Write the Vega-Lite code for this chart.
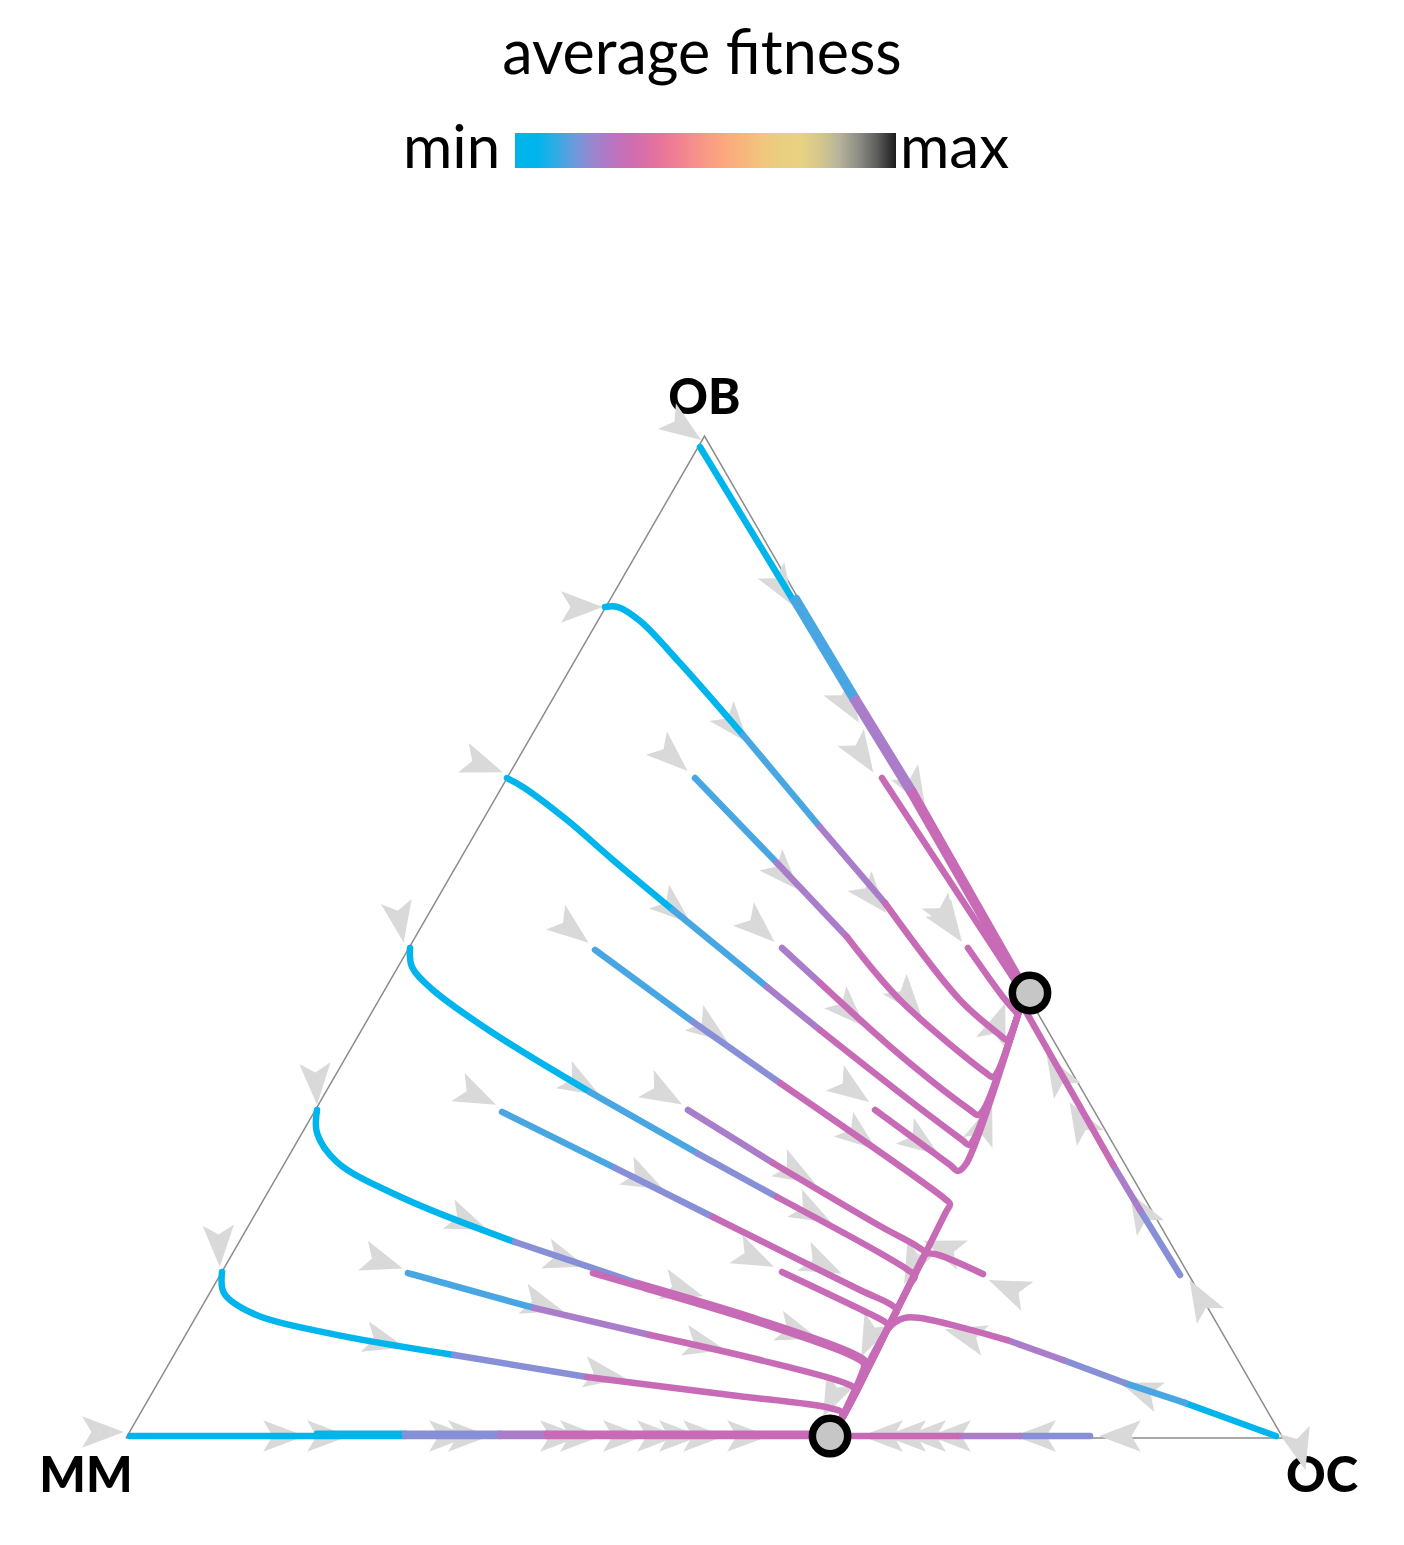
{
  "$schema": "https://vega.github.io/schema/vega-lite/v6.json",
  "width": 1404,
  "height": 1545,
  "autosize": "none",
  "padding": 0,
  "background": "white",
  "title": {"text": "average fitness", "font": "Lato", "fontSize": 61, "fontWeight": "normal", "color": "#000000", "anchor": "middle", "frame": "group", "offset": 0, "baseline": "alphabetic", "dy": 135},
  "config": {"view": {"stroke": null}},
  "datasets": {
    "edges": [
      {"x": 0, "y": 0, "o": 0}, {"x": 100, "y": 0, "o": 1}, {"x": 50, "y": 86.6, "o": 2}, {"x": 0, "y": 0, "o": 3}
    ],
    "verts": [
      {"label": "MM", "x": 0, "y": 0}, {"label": "OC", "x": 100, "y": 0}, {"label": "OB", "x": 50, "y": 86.6}
    ],
    "eq": [
      {"x": 60.85, "y": 0.17}, {"x": 78.13, "y": 38.46}
    ],
    "arrows": [
      {"x": 48.23, "y": 87.29, "dir": 35}, {"x": 39.41, "y": 71.82, "dir": 0}, {"x": 30.86, "y": 58.17, "dir": 20},
      {"x": 23.68, "y": 44.60, "dir": 80}, {"x": 16.42, "y": 30.60, "dir": 87}, {"x": 8.04, "y": 16.59, "dir": 88},
      {"x": -1.99, "y": 0.52, "dir": 0}, {"x": 47.19, "y": 58.86, "dir": 42}, {"x": 63.61, "y": 59.03, "dir": 57},
      {"x": 38.55, "y": 43.91, "dir": 38}, {"x": 54.71, "y": 44.08, "dir": 42}, {"x": 71.22, "y": 44.34, "dir": 55},
      {"x": 30.34, "y": 29.56, "dir": 25}, {"x": 46.50, "y": 29.73, "dir": 30}, {"x": 62.75, "y": 30.08, "dir": 35},
      {"x": 22.21, "y": 15.21, "dir": 18}, {"x": 38.03, "y": 15.38, "dir": 18}, {"x": 54.36, "y": 15.56, "dir": 25},
      {"x": 76.23, "y": 12.96, "dir": 203}, {"x": 85.91, "y": 0.17, "dir": 180}, {"x": 92.83, "y": 12.10, "dir": 240},
      {"x": 101.47, "y": -1.04, "dir": 75}, {"x": 56.70, "y": 73.47, "dir": 58}, {"x": 62.40, "y": 63.35, "dir": 58},
      {"x": 68.19, "y": 56.01, "dir": 60}, {"x": 70.87, "y": 44.94, "dir": 58}, {"x": 52.64, "y": 61.45, "dir": 50},
      {"x": 56.96, "y": 48.66, "dir": 47}, {"x": 64.56, "y": 46.76, "dir": 50}, {"x": 47.45, "y": 45.64, "dir": 40},
      {"x": 39.41, "y": 30.51, "dir": 30}, {"x": 50.56, "y": 35.26, "dir": 36}, {"x": 62.58, "y": 36.82, "dir": 45},
      {"x": 63.44, "y": 26.02, "dir": 38}, {"x": 44.86, "y": 22.30, "dir": 27}, {"x": 29.56, "y": 18.67, "dir": 22},
      {"x": 48.14, "y": 12.79, "dir": 17}, {"x": 58.00, "y": 22.90, "dir": 30}, {"x": 59.38, "y": 19.45, "dir": 28},
      {"x": 60.24, "y": 14.95, "dir": 25}, {"x": 68.02, "y": 14.95, "dir": 115}, {"x": 50.04, "y": 8.04, "dir": 13},
      {"x": 58.08, "y": 9.16, "dir": 18}, {"x": 64.30, "y": 8.64, "dir": 115}, {"x": 61.02, "y": 3.46, "dir": 115},
      {"x": 70.61, "y": 16.42, "dir": 200}, {"x": 72.51, "y": 8.90, "dir": 195}, {"x": 87.64, "y": 4.15, "dir": 200},
      {"x": 80.47, "y": 31.55, "dir": 240}, {"x": 82.45, "y": 27.48, "dir": 240}, {"x": 87.64, "y": 19.71, "dir": 240},
      {"x": 75.37, "y": 35.87, "dir": 290}, {"x": 74.24, "y": 27.23, "dir": 290}, {"x": 68.80, "y": 25.50, "dir": 35},
      {"x": 67.59, "y": 37.86, "dir": 50}, {"x": 22.39, "y": 8.30, "dir": 15}, {"x": 41.40, "y": 5.45, "dir": 9},
      {"x": 36.04, "y": 11.50, "dir": 17},
      {"x": 13.66, "y": 0.17, "dir": 0}, {"x": 17.46, "y": 0.17, "dir": 0}, {"x": 28.00, "y": 0.17, "dir": 0},
      {"x": 29.65, "y": 0.17, "dir": 0}, {"x": 37.60, "y": 0.17, "dir": 0}, {"x": 39.33, "y": 0.17, "dir": 0},
      {"x": 43.04, "y": 0.17, "dir": 0}, {"x": 45.98, "y": 0.17, "dir": 0}, {"x": 47.88, "y": 0.17, "dir": 0},
      {"x": 49.96, "y": 0.17, "dir": 0}, {"x": 53.76, "y": 0.17, "dir": 0},
      {"x": 78.57, "y": 0.17, "dir": 180}, {"x": 71.22, "y": 0.17, "dir": 180}, {"x": 69.06, "y": 0.17, "dir": 180},
      {"x": 67.33, "y": 0.17, "dir": 180}, {"x": 65.34, "y": 0.17, "dir": 180}
    ],
    "traj": [
      {"s": "T1c", "o": 0, "x": 49.61, "y": 85.65, "f": 0.03}, {"s": "T1c", "o": 1, "x": 57.65, "y": 72.43, "f": 0.03},
      {"s": "T1b", "o": 0, "x": 57.65, "y": 72.43, "f": 0.12}, {"s": "T1b", "o": 1, "x": 62.83, "y": 63.79, "f": 0.12},
      {"s": "T1p", "o": 0, "x": 62.83, "y": 63.79, "f": 0.22}, {"s": "T1p", "o": 1, "x": 67.76, "y": 55.75, "f": 0.22},
      {"s": "T1m", "o": 0, "x": 67.76, "y": 55.75, "f": 0.28}, {"s": "T1m", "o": 1, "x": 77.27, "y": 39.15, "f": 0.28},

      {"s": "R1b", "o": 0, "x": 57.95, "y": 72.60, "f": 0.12}, {"s": "R1b", "o": 1, "x": 63.13, "y": 63.96, "f": 0.12},
      {"s": "R1p", "o": 0, "x": 63.13, "y": 63.96, "f": 0.22}, {"s": "R1p", "o": 1, "x": 68.06, "y": 55.92, "f": 0.22},
      {"s": "R1m", "o": 0, "x": 68.06, "y": 55.92, "f": 0.28}, {"s": "R1m", "o": 1, "x": 77.50, "y": 39.30, "f": 0.28},

      {"s": "T2l", "o": 0, "x": 91.10, "y": 14.09, "f": 0.17}, {"s": "T2l", "o": 1, "x": 87.64, "y": 19.71, "f": 0.17},
      {"s": "T2p", "o": 0, "x": 87.64, "y": 19.71, "f": 0.22}, {"s": "T2p", "o": 1, "x": 85.31, "y": 23.60, "f": 0.22},
      {"s": "T2m", "o": 0, "x": 85.31, "y": 23.60, "f": 0.28}, {"s": "T2m", "o": 1, "x": 77.61, "y": 37.16, "f": 0.28},

      {"s": "T3c", "o": 0, "x": 0.35, "y": 0.17, "f": 0.03}, {"s": "T3c", "o": 1, "x": 24.11, "y": 0.17, "f": 0.03},
      {"s": "T3l", "o": 0, "x": 24.11, "y": 0.17, "f": 0.17}, {"s": "T3l", "o": 1, "x": 32.33, "y": 0.17, "f": 0.17},
      {"s": "T3p", "o": 0, "x": 32.33, "y": 0.17, "f": 0.22}, {"s": "T3p", "o": 1, "x": 36.39, "y": 0.17, "f": 0.22},
      {"s": "T3m", "o": 0, "x": 36.39, "y": 0.17, "f": 0.28}, {"s": "T3m", "o": 1, "x": 60.67, "y": 0.17, "f": 0.28},

      {"s": "B2c", "o": 0, "x": 16.50, "y": 0.36, "f": 0.03}, {"s": "B2c", "o": 1, "x": 24.11, "y": 0.36, "f": 0.03},
      {"s": "B2l", "o": 0, "x": 24.11, "y": 0.36, "f": 0.17}, {"s": "B2l", "o": 1, "x": 32.33, "y": 0.36, "f": 0.17},
      {"s": "B2p", "o": 0, "x": 32.33, "y": 0.36, "f": 0.22}, {"s": "B2p", "o": 1, "x": 36.39, "y": 0.36, "f": 0.22},
      {"s": "B2m", "o": 0, "x": 36.39, "y": 0.36, "f": 0.28}, {"s": "B2m", "o": 1, "x": 60.67, "y": 0.36, "f": 0.28},

      {"s": "T4l", "o": 0, "x": 83.32, "y": 0.17, "f": 0.17}, {"s": "T4l", "o": 1, "x": 77.27, "y": 0.17, "f": 0.17},
      {"s": "T4p", "o": 0, "x": 77.27, "y": 0.17, "f": 0.22}, {"s": "T4p", "o": 1, "x": 71.91, "y": 0.17, "f": 0.22},
      {"s": "T4m", "o": 0, "x": 71.91, "y": 0.17, "f": 0.28}, {"s": "T4m", "o": 1, "x": 62.58, "y": 0.17, "f": 0.28},

      {"s": "L1c", "o": 0, "x": 41.40, "y": 71.82, "f": 0.03}, {"s": "L1c", "o": 1, "x": 42.52, "y": 71.82, "f": 0.03},
      {"s": "L1c", "o": 2, "x": 44.43, "y": 70.61, "f": 0.03}, {"s": "L1c", "o": 3, "x": 47.88, "y": 66.98, "f": 0.03},
      {"s": "L1c", "o": 4, "x": 53.33, "y": 60.76, "f": 0.03},
      {"s": "L1b", "o": 0, "x": 53.33, "y": 60.76, "f": 0.12}, {"s": "L1b", "o": 1, "x": 59.98, "y": 52.81, "f": 0.12},
      {"s": "L1p", "o": 0, "x": 59.98, "y": 52.81, "f": 0.22}, {"s": "L1p", "o": 1, "x": 65.60, "y": 46.24, "f": 0.22},
      {"s": "L1m", "o": 0, "x": 65.60, "y": 46.24, "f": 0.28}, {"s": "L1m", "o": 1, "x": 72.08, "y": 37.86, "f": 0.28},
      {"s": "L1m", "o": 2, "x": 75.54, "y": 34.83, "f": 0.28}, {"s": "L1m", "o": 3, "x": 76.15, "y": 34.40, "f": 0.28},
      {"s": "L1m", "o": 4, "x": 76.49, "y": 34.92, "f": 0.28}, {"s": "L1m", "o": 5, "x": 77.27, "y": 37.16, "f": 0.28},

      {"s": "I1b", "o": 0, "x": 49.18, "y": 57.04, "f": 0.12}, {"s": "I1b", "o": 1, "x": 56.27, "y": 49.70, "f": 0.12},
      {"s": "I1p", "o": 0, "x": 56.27, "y": 49.70, "f": 0.22}, {"s": "I1p", "o": 1, "x": 62.32, "y": 43.30, "f": 0.22},
      {"s": "I1m", "o": 0, "x": 62.32, "y": 43.30, "f": 0.28}, {"s": "I1m", "o": 1, "x": 66.90, "y": 37.86, "f": 0.28},
      {"s": "I1m", "o": 2, "x": 74.24, "y": 31.63, "f": 0.28}, {"s": "I1m", "o": 3, "x": 74.94, "y": 31.20, "f": 0.28},
      {"s": "I1m", "o": 4, "x": 75.37, "y": 31.72, "f": 0.28}, {"s": "I1m", "o": 5, "x": 77.27, "y": 37.16, "f": 0.28},

      {"s": "I5p", "o": 0, "x": 56.70, "y": 42.35, "f": 0.22}, {"s": "I5p", "o": 1, "x": 59.98, "y": 39.33, "f": 0.22},
      {"s": "I5m", "o": 0, "x": 59.98, "y": 39.33, "f": 0.28}, {"s": "I5m", "o": 1, "x": 66.90, "y": 33.10, "f": 0.28},
      {"s": "I5m", "o": 2, "x": 72.95, "y": 28.35, "f": 0.28}, {"s": "I5m", "o": 3, "x": 73.64, "y": 27.92, "f": 0.28},
      {"s": "I5m", "o": 4, "x": 74.16, "y": 28.44, "f": 0.28}, {"s": "I5m", "o": 5, "x": 77.27, "y": 37.16, "f": 0.28},

      {"s": "L2c", "o": 0, "x": 32.93, "y": 57.04, "f": 0.03}, {"s": "L2c", "o": 1, "x": 34.31, "y": 56.27, "f": 0.03},
      {"s": "L2c", "o": 2, "x": 38.12, "y": 53.41, "f": 0.03}, {"s": "L2c", "o": 3, "x": 42.09, "y": 49.96, "f": 0.03},
      {"s": "L2c", "o": 4, "x": 47.28, "y": 45.64, "f": 0.03},
      {"s": "L2b", "o": 0, "x": 47.28, "y": 45.64, "f": 0.12}, {"s": "L2b", "o": 1, "x": 55.40, "y": 38.98, "f": 0.12},
      {"s": "L2p", "o": 0, "x": 55.40, "y": 38.98, "f": 0.22}, {"s": "L2p", "o": 1, "x": 59.98, "y": 35.26, "f": 0.22},
      {"s": "L2m", "o": 0, "x": 59.98, "y": 35.26, "f": 0.28}, {"s": "L2m", "o": 1, "x": 66.90, "y": 29.82, "f": 0.28},
      {"s": "L2m", "o": 2, "x": 72.26, "y": 25.76, "f": 0.28}, {"s": "L2m", "o": 3, "x": 72.86, "y": 25.32, "f": 0.28},
      {"s": "L2m", "o": 4, "x": 73.29, "y": 25.84, "f": 0.28}, {"s": "L2m", "o": 5, "x": 77.27, "y": 37.16, "f": 0.28},

      {"s": "I10m", "o": 0, "x": 64.74, "y": 28.35, "f": 0.28}, {"s": "I10m", "o": 1, "x": 71.22, "y": 23.60, "f": 0.28},
      {"s": "I10m", "o": 2, "x": 71.91, "y": 23.08, "f": 0.28}, {"s": "I10m", "o": 3, "x": 72.60, "y": 23.68, "f": 0.28},
      {"s": "I10m", "o": 4, "x": 77.27, "y": 37.16, "f": 0.28},

      {"s": "I9m", "o": 0, "x": 72.77, "y": 42.35, "f": 0.28}, {"s": "I9m", "o": 1, "x": 75.80, "y": 38.12, "f": 0.28},
      {"s": "I9m", "o": 2, "x": 76.92, "y": 36.82, "f": 0.28},

      {"s": "I8m", "o": 0, "x": 65.34, "y": 57.04, "f": 0.28}, {"s": "I8m", "o": 1, "x": 76.40, "y": 40.19, "f": 0.28},
      {"s": "I8m", "o": 2, "x": 77.44, "y": 38.55, "f": 0.28},

      {"s": "I2b", "o": 0, "x": 40.54, "y": 42.18, "f": 0.12}, {"s": "I2b", "o": 1, "x": 49.01, "y": 35.96, "f": 0.12},
      {"s": "I2l", "o": 0, "x": 49.01, "y": 35.96, "f": 0.17}, {"s": "I2l", "o": 1, "x": 56.53, "y": 30.68, "f": 0.17},
      {"s": "I2m", "o": 0, "x": 56.53, "y": 30.68, "f": 0.28}, {"s": "I2m", "o": 1, "x": 70.79, "y": 20.66, "f": 0.28},
      {"s": "I2m", "o": 2, "x": 71.22, "y": 20.22, "f": 0.28}, {"s": "I2m", "o": 3, "x": 70.87, "y": 19.53, "f": 0.28},
      {"s": "I2m", "o": 4, "x": 61.54, "y": 1.12, "f": 0.28}, {"s": "I2m", "o": 5, "x": 60.85, "y": 0.17, "f": 0.28},

      {"s": "I6p", "o": 0, "x": 48.57, "y": 28.35, "f": 0.22}, {"s": "I6p", "o": 1, "x": 55.92, "y": 23.77, "f": 0.22},
      {"s": "I6m", "o": 0, "x": 55.92, "y": 23.77, "f": 0.28}, {"s": "I6m", "o": 1, "x": 65.17, "y": 18.32, "f": 0.28},
      {"s": "I6m", "o": 2, "x": 68.45, "y": 16.51, "f": 0.28}, {"s": "I6m", "o": 3, "x": 69.06, "y": 15.99, "f": 0.28},
      {"s": "I6m", "o": 4, "x": 68.71, "y": 15.30, "f": 0.28}, {"s": "I6m", "o": 5, "x": 61.54, "y": 1.12, "f": 0.28},
      {"s": "I6m", "o": 6, "x": 60.85, "y": 0.17, "f": 0.28},

      {"s": "L3c", "o": 0, "x": 24.55, "y": 42.35, "f": 0.03}, {"s": "L3c", "o": 1, "x": 24.72, "y": 40.71, "f": 0.03},
      {"s": "L3c", "o": 2, "x": 26.53, "y": 38.72, "f": 0.03}, {"s": "L3c", "o": 3, "x": 31.72, "y": 35.00, "f": 0.03},
      {"s": "L3c", "o": 4, "x": 40.10, "y": 29.90, "f": 0.03},
      {"s": "L3b", "o": 0, "x": 40.10, "y": 29.90, "f": 0.12}, {"s": "L3b", "o": 1, "x": 49.35, "y": 24.63, "f": 0.12},
      {"s": "L3l", "o": 0, "x": 49.35, "y": 24.63, "f": 0.17}, {"s": "L3l", "o": 1, "x": 56.27, "y": 20.83, "f": 0.17},
      {"s": "L3m", "o": 0, "x": 56.27, "y": 20.83, "f": 0.28}, {"s": "L3m", "o": 1, "x": 65.17, "y": 15.99, "f": 0.28},
      {"s": "L3m", "o": 2, "x": 67.59, "y": 14.52, "f": 0.28}, {"s": "L3m", "o": 3, "x": 68.19, "y": 14.00, "f": 0.28},
      {"s": "L3m", "o": 4, "x": 67.76, "y": 13.31, "f": 0.28}, {"s": "L3m", "o": 5, "x": 61.54, "y": 1.12, "f": 0.28},
      {"s": "L3m", "o": 6, "x": 60.85, "y": 0.17, "f": 0.28},

      {"s": "I3b", "o": 0, "x": 32.50, "y": 28.18, "f": 0.12}, {"s": "I3b", "o": 1, "x": 42.26, "y": 23.34, "f": 0.12},
      {"s": "I3l", "o": 0, "x": 42.26, "y": 23.34, "f": 0.17}, {"s": "I3l", "o": 1, "x": 50.73, "y": 19.10, "f": 0.17},
      {"s": "I3m", "o": 0, "x": 50.73, "y": 19.10, "f": 0.28}, {"s": "I3m", "o": 1, "x": 63.44, "y": 12.79, "f": 0.28},
      {"s": "I3m", "o": 2, "x": 66.03, "y": 11.58, "f": 0.28}, {"s": "I3m", "o": 3, "x": 66.64, "y": 11.06, "f": 0.28},
      {"s": "I3m", "o": 4, "x": 66.29, "y": 10.37, "f": 0.28}, {"s": "I3m", "o": 5, "x": 61.54, "y": 1.12, "f": 0.28},
      {"s": "I3m", "o": 6, "x": 60.85, "y": 0.17, "f": 0.28},

      {"s": "I7m", "o": 0, "x": 56.70, "y": 14.35, "f": 0.28}, {"s": "I7m", "o": 1, "x": 64.30, "y": 10.72, "f": 0.28},
      {"s": "I7m", "o": 2, "x": 65.60, "y": 10.03, "f": 0.28}, {"s": "I7m", "o": 3, "x": 65.86, "y": 9.77, "f": 0.28},
      {"s": "I7m", "o": 4, "x": 65.60, "y": 8.99, "f": 0.28}, {"s": "I7m", "o": 5, "x": 61.54, "y": 1.12, "f": 0.28},
      {"s": "I7m", "o": 6, "x": 60.85, "y": 0.17, "f": 0.28},

      {"s": "L4c", "o": 0, "x": 16.51, "y": 28.35, "f": 0.03}, {"s": "L4c", "o": 1, "x": 16.51, "y": 26.36, "f": 0.03},
      {"s": "L4c", "o": 2, "x": 18.24, "y": 23.85, "f": 0.03}, {"s": "L4c", "o": 3, "x": 23.94, "y": 20.74, "f": 0.03},
      {"s": "L4c", "o": 4, "x": 33.62, "y": 16.94, "f": 0.03},
      {"s": "L4l", "o": 0, "x": 33.62, "y": 16.94, "f": 0.17}, {"s": "L4l", "o": 1, "x": 44.17, "y": 13.40, "f": 0.17},
      {"s": "L4m", "o": 0, "x": 44.17, "y": 13.40, "f": 0.28}, {"s": "L4m", "o": 1, "x": 54.80, "y": 10.20, "f": 0.28},
      {"s": "L4m", "o": 2, "x": 62.58, "y": 7.43, "f": 0.28}, {"s": "L4m", "o": 3, "x": 63.96, "y": 6.57, "f": 0.28},
      {"s": "L4m", "o": 4, "x": 63.87, "y": 5.62, "f": 0.28}, {"s": "L4m", "o": 5, "x": 61.54, "y": 1.12, "f": 0.28},
      {"s": "L4m", "o": 6, "x": 60.85, "y": 0.17, "f": 0.28},

      {"s": "I13m", "o": 0, "x": 40.36, "y": 14.26, "f": 0.28}, {"s": "I13m", "o": 1, "x": 44.17, "y": 13.14, "f": 0.28},
      {"s": "I13m", "o": 2, "x": 54.80, "y": 9.94, "f": 0.28}, {"s": "I13m", "o": 3, "x": 62.58, "y": 7.17, "f": 0.28},
      {"s": "I13m", "o": 4, "x": 63.78, "y": 6.40, "f": 0.28}, {"s": "I13m", "o": 5, "x": 63.60, "y": 5.60, "f": 0.28},
      {"s": "I13m", "o": 6, "x": 61.54, "y": 1.12, "f": 0.28},

      {"s": "I4b", "o": 0, "x": 24.37, "y": 14.26, "f": 0.12}, {"s": "I4b", "o": 1, "x": 35.26, "y": 11.24, "f": 0.12},
      {"s": "I4p", "o": 0, "x": 35.26, "y": 11.24, "f": 0.22}, {"s": "I4p", "o": 1, "x": 45.29, "y": 8.90, "f": 0.22},
      {"s": "I4m", "o": 0, "x": 45.29, "y": 8.90, "f": 0.28}, {"s": "I4m", "o": 1, "x": 54.80, "y": 6.74, "f": 0.28},
      {"s": "I4m", "o": 2, "x": 62.14, "y": 4.75, "f": 0.28}, {"s": "I4m", "o": 3, "x": 63.01, "y": 4.24, "f": 0.28},
      {"s": "I4m", "o": 4, "x": 62.84, "y": 3.54, "f": 0.28}, {"s": "I4m", "o": 5, "x": 61.54, "y": 1.12, "f": 0.28},
      {"s": "I4m", "o": 6, "x": 60.85, "y": 0.17, "f": 0.28},

      {"s": "L5c", "o": 0, "x": 8.30, "y": 14.35, "f": 0.03}, {"s": "L5c", "o": 1, "x": 8.47, "y": 12.53, "f": 0.03},
      {"s": "L5c", "o": 2, "x": 10.89, "y": 10.80, "f": 0.03}, {"s": "L5c", "o": 3, "x": 17.37, "y": 9.08, "f": 0.03},
      {"s": "L5c", "o": 4, "x": 28.35, "y": 7.17, "f": 0.03},
      {"s": "L5l", "o": 0, "x": 28.35, "y": 7.17, "f": 0.17}, {"s": "L5l", "o": 1, "x": 39.84, "y": 5.27, "f": 0.17},
      {"s": "L5m", "o": 0, "x": 39.84, "y": 5.27, "f": 0.28}, {"s": "L5m", "o": 1, "x": 52.20, "y": 3.72, "f": 0.28},
      {"s": "L5m", "o": 2, "x": 60.85, "y": 2.59, "f": 0.28}, {"s": "L5m", "o": 3, "x": 61.88, "y": 2.16, "f": 0.28},
      {"s": "L5m", "o": 4, "x": 61.54, "y": 1.12, "f": 0.28}, {"s": "L5m", "o": 5, "x": 60.85, "y": 0.17, "f": 0.28},

      {"s": "I12c", "o": 0, "x": 99.39, "y": 0.17, "f": 0.03}, {"s": "I12c", "o": 1, "x": 91.53, "y": 3.03, "f": 0.03},
      {"s": "I12b", "o": 0, "x": 91.53, "y": 3.03, "f": 0.12}, {"s": "I12b", "o": 1, "x": 86.34, "y": 4.75, "f": 0.12},
      {"s": "I12l", "o": 0, "x": 86.34, "y": 4.75, "f": 0.17}, {"s": "I12l", "o": 1, "x": 80.99, "y": 6.74, "f": 0.17},
      {"s": "I12p", "o": 0, "x": 80.99, "y": 6.74, "f": 0.22}, {"s": "I12p", "o": 1, "x": 76.15, "y": 8.47, "f": 0.22},
      {"s": "I12m", "o": 0, "x": 76.15, "y": 8.47, "f": 0.28}, {"s": "I12m", "o": 1, "x": 72.08, "y": 9.59, "f": 0.28},
      {"s": "I12m", "o": 2, "x": 68.63, "y": 10.37, "f": 0.28}, {"s": "I12m", "o": 3, "x": 67.24, "y": 10.37, "f": 0.28},
      {"s": "I12m", "o": 4, "x": 66.00, "y": 9.60, "f": 0.28}, {"s": "I12m", "o": 5, "x": 61.54, "y": 1.12, "f": 0.28},
      {"s": "I12m", "o": 6, "x": 60.85, "y": 0.17, "f": 0.28},

      {"s": "I11m", "o": 0, "x": 74.07, "y": 14.17, "f": 0.28}, {"s": "I11m", "o": 1, "x": 69.92, "y": 15.90, "f": 0.28},
      {"s": "I11m", "o": 2, "x": 69.14, "y": 15.90, "f": 0.28}, {"s": "I11m", "o": 3, "x": 68.80, "y": 15.30, "f": 0.28},
      {"s": "I11m", "o": 4, "x": 61.54, "y": 1.12, "f": 0.28}
    ]
  },
  "encoding": {
    "x": {"field": "x", "type": "quantitative", "scale": {"domain": [-10.89, 110.458], "nice": false, "zero": false}, "axis": null},
    "y": {"field": "y", "type": "quantitative", "scale": {"domain": [-9.248, 124.287], "nice": false, "zero": false}, "axis": null}
  },
  "layer": [
    {
      "data": {"name": "edges"},
      "mark": {"type": "line", "stroke": "#8c8c8c", "strokeWidth": 1.5},
      "encoding": {"order": {"field": "o", "type": "quantitative"}}
    },
    {
      "data": {"name": "verts"},
      "transform": [{"filter": "datum.label === 'OB'"}],
      "mark": {"type": "text", "font": "Lato", "fontSize": 49, "fontWeight": 900, "color": "#000000", "align": "center", "baseline": "alphabetic", "dx": 0, "dy": -22},
      "encoding": {"text": {"field": "label"}}
    },
    {
      "data": {"name": "verts"},
      "transform": [{"filter": "datum.label === 'MM'"}],
      "mark": {"type": "text", "font": "Lato", "fontSize": 49, "fontWeight": 900, "color": "#000000", "align": "center", "baseline": "alphabetic", "dx": -40, "dy": 54},
      "encoding": {"text": {"field": "label"}}
    },
    {
      "data": {"name": "verts"},
      "transform": [{"filter": "datum.label === 'OC'"}],
      "mark": {"type": "text", "font": "Lato", "fontSize": 49, "fontWeight": 900, "color": "#000000", "align": "center", "baseline": "alphabetic", "dx": 39, "dy": 54},
      "encoding": {"text": {"field": "label"}}
    },
    {
      "data": {"name": "arrows"},
      "mark": {"type": "point", "shape": "M1,0L-1,-0.75L-0.55,0L-1,0.75Z", "filled": true, "fill": "#d9d9d9", "opacity": 1, "size": 1750, "strokeWidth": 0},
      "encoding": {"angle": {"field": "dir", "type": "quantitative", "scale": null}}
    },
    {
      "data": {"name": "traj"},
      "mark": {"type": "point", "opacity": 0, "filled": true, "size": 1},
      "encoding": {
        "fill": {
          "field": "f",
          "type": "quantitative",
          "scale": {
            "domain": [0, 0.06, 0.12, 0.17, 0.22, 0.28, 0.38, 0.47, 0.56, 0.68, 0.77, 0.85, 0.93, 1.0001],
            "range": ["#00b4ec", "#00b4ec", "#48a7e2", "#8790d6", "#a97dca", "#c86bb7", "#e8729a", "#f8918a", "#fcac7b", "#ecce7f", "#e5d383", "#b7b39b", "#777777", "#1c1c1c"],
            "interpolate": "rgb"
          },
          "legend": {
            "orient": "none",
            "legendX": 515,
            "legendY": 133,
            "direction": "horizontal",
            "title": "max",
            "titleOrient": "right",
            "titleAnchor": "end",
            "titleBaseline": "alphabetic",
            "titleFont": "Lato",
            "titleFontSize": 60,
            "titleFontWeight": "normal",
            "titleColor": "#000000",
            "titlePadding": 7,
            "padding": 0,
            "values": [],
            "labelExpr": "''",
            "labelFontSize": 1,
            "labelOpacity": 0,
            "gradientLength": 378,
            "gradientThickness": 35,
            "gradientStrokeWidth": 0
          }
        }
      }
    },
    {
      "data": {"name": "traj"},
      "mark": {"type": "line", "strokeWidth": 6.5, "strokeCap": "round", "strokeJoin": "round", "interpolate": "catmull-rom"},
      "encoding": {
        "detail": {"field": "s"},
        "order": {"field": "o", "type": "quantitative"},
        "color": {
          "field": "f",
          "type": "quantitative",
          "scale": {
            "domain": [0, 0.06, 0.12, 0.17, 0.22, 0.28, 0.38, 0.47, 0.56, 0.68, 0.77, 0.85, 0.93, 1],
            "range": ["#00b4ec", "#00b4ec", "#48a7e2", "#8790d6", "#a97dca", "#c86bb7", "#e8729a", "#f8918a", "#fcac7b", "#ecce7f", "#e5d383", "#b7b39b", "#777777", "#1c1c1c"],
            "interpolate": "rgb"
          },
          "legend": {
            "orient": "none",
            "legendX": 403,
            "legendY": 133,
            "direction": "horizontal",
            "title": "min",
            "titleOrient": "left",
            "titleAnchor": "end",
            "titleBaseline": "alphabetic",
            "titleFont": "Lato",
            "titleFontSize": 60,
            "titleFontWeight": "normal",
            "titleColor": "#000000",
            "titlePadding": 17,
            "padding": 0,
            "values": [],
            "labelExpr": "''",
            "labelFontSize": 1,
            "labelOpacity": 0,
            "gradientLength": 378,
            "gradientThickness": 35,
            "gradientStrokeWidth": 0
          }
        }
      }
    },
    {
      "data": {"name": "eq"},
      "mark": {"type": "point", "shape": "circle", "filled": true, "fill": "#c6c6c6", "stroke": "#000000", "strokeWidth": 7.5, "size": 1250, "opacity": 1},
      "encoding": {}
    }
  ]
}
